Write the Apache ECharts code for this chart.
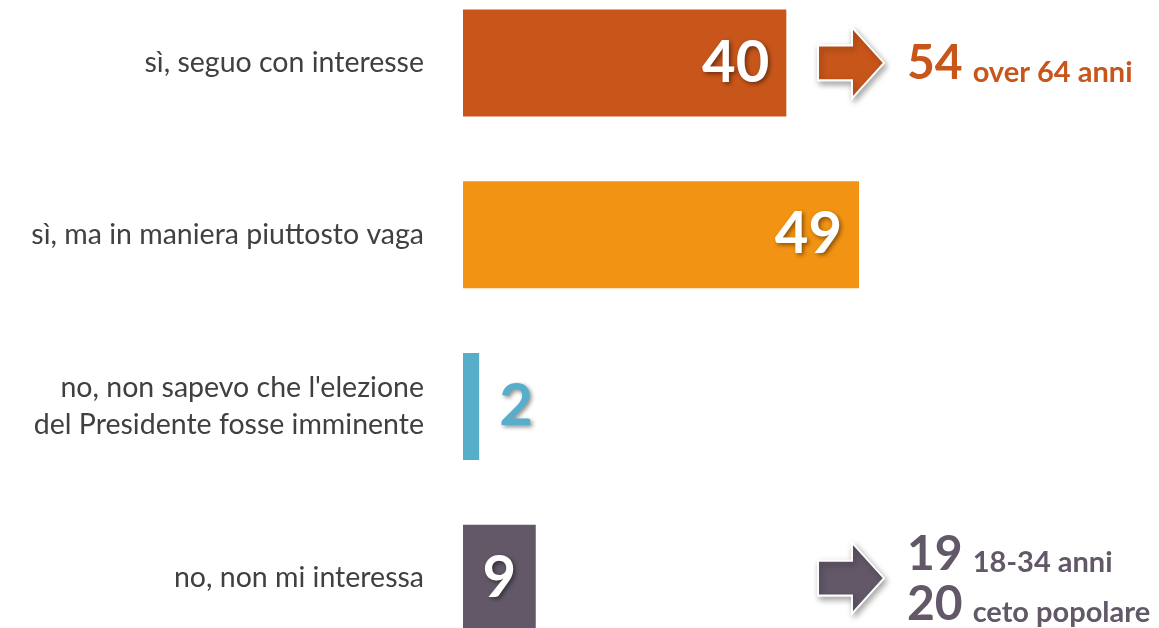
<!DOCTYPE html>
<html>
<head>
<meta charset="utf-8">
<script src="https://cdn.jsdelivr.net/npm/echarts@6/dist/echarts.min.js"></script>
<style>
  html, body { margin: 0; padding: 0; background: #fff; }
  #chart { width: 1159px; height: 628px; }
</style>
</head>
<body>
<div id="chart"></div>
<script>
// risposte
const categories = [
  "sì, seguo con interesse",
  "sì, ma in maniera piuttosto vaga",
  "no, non sapevo che l'elezione\ndel Presidente fosse imminente",
  "no, non mi interessa"
];
const values = [40, 49, 2, 9];
const barColors = ["#C8561A", "#F39313", "#56AECA", "#625868"];

// note a destra (frecce)
const noteCats = [0, 3];
const noteValues = [["54"], ["19", "20"]];
const noteTexts = [["over 64 anni"], ["18-34 anni", "ceto popolare"]];

const ARROW_AT = 48;
const arrowPath = "path://M0 18L34 18L34 0L66 35.5L34 71L34 53L0 53Z";
const numFont = "Lato";

const chart = echarts.init(document.getElementById("chart"));

const labelPos = ["insideRight", "insideRight", "right", "inside"];

const barData = values.map(function (v, i) {
  const outside = labelPos[i] === "right";
  return {
    value: v,
    itemStyle: { color: barColors[i] },
    label: {
      position: labelPos[i],
      distance: outside ? 20 : 17,
      color: outside ? barColors[i] : "#fff"
    }
  };
});

const markData = noteCats.map(function (c, k) {
  const col = barColors[c];
  const lines = noteValues[k].map(function (n, j) {
    return "{n|" + n + "}{t|" + noteTexts[k][j] + "}";
  });
  return {
    coord: [ARROW_AT, c],
    itemStyle: { color: col },
    label: {
      show: true,
      position: "right",
      distance: 22,
      formatter: lines.join("\n"),
      rich: {
        n: { fontFamily: numFont, fontWeight: "bold", fontSize: 48, color: col, lineHeight: 50, verticalAlign: "bottom" },
        t: { fontFamily: numFont, fontWeight: "bold", fontSize: 29, color: col, lineHeight: 50, verticalAlign: "bottom", padding: [0, 0, 1, 10] }
      }
    }
  };
});

const option = {
  animation: false,
  grid: { left: 463, top: -23, width: 485, height: 687, outerBoundsMode: "none" },
  xAxis: { type: "value", min: 0, max: 60, show: false },
  yAxis: {
    type: "category",
    inverse: true,
    data: categories,
    axisLine: { show: false },
    axisTick: { show: false },
    axisLabel: {
      margin: 39,
      color: "#404040",
      fontFamily: "Lato",
      fontSize: 28.5,
      lineHeight: 37
    }
  },
  series: [{
    type: "bar",
    barWidth: 107,
    data: barData,
    label: {
      show: true,
      fontFamily: numFont,
      fontWeight: "bold",
      fontSize: 58,
      textShadowColor: "rgba(0,0,0,0.45)",
      textShadowBlur: 4,
      textShadowOffsetX: 2,
      textShadowOffsetY: 2
    },
    markPoint: {
      symbol: arrowPath,
      symbolSize: [66, 71],
      symbolKeepAspect: false,
      itemStyle: {
        borderColor: "#fff",
        borderWidth: 2,
        shadowColor: "rgba(0,0,0,0.35)",
        shadowBlur: 6,
        shadowOffsetX: 2,
        shadowOffsetY: 3
      },
      data: markData
    }
  }]
};

chart.setOption(option);
</script>
</body>
</html>
